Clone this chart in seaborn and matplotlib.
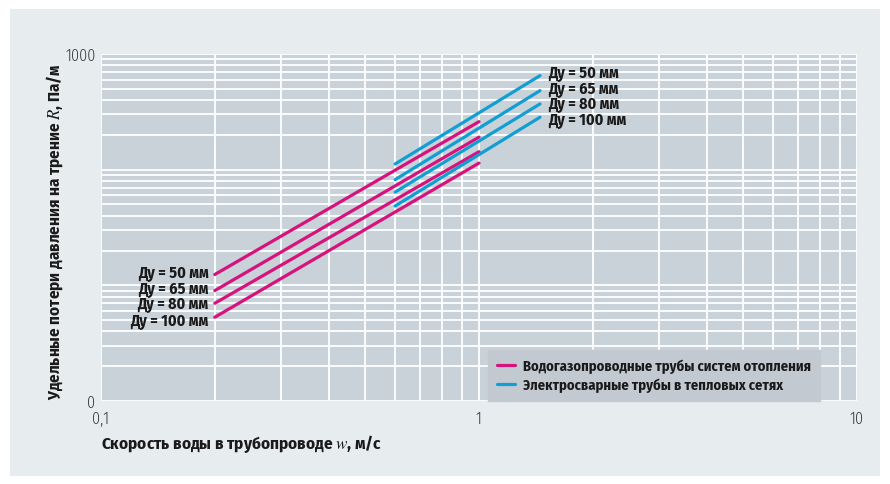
import matplotlib
matplotlib.use("Agg")
import matplotlib.pyplot as plt
from matplotlib.lines import Line2D
from matplotlib.patches import Rectangle
from matplotlib.ticker import NullFormatter
import pandas as pd
import seaborn as sns

# Pipe sizes (nominal diameter, mm)
dn_sizes = [50, 65, 80, 100]

# Water-gas pipes of heating systems: velocity range and friction losses at ends
w_gas = [0.2, 1.0]
r_gas_start = [12.4, 9.0, 7.0, 5.3]
r_gas_end = [260, 191, 143, 114]

# Electric-welded pipes of heat networks
w_weld = [0.6, 1.45]
r_weld_start = [112, 82, 64, 48.5]
r_weld_end = [650, 482, 370, 284]

series_names = ["Водогазопроводные трубы систем отопления",
                "Электросварные трубы в тепловых сетях"]
series_colors = ["#d6137c", "#119fd3"]

x_ticks = [0.1, 1, 10]
x_ticklabels = ["0,1", "1", "10"]
y_ticks = [1, 1000]
y_ticklabels = ["0", "1000"]

rows = []
for name, ws, rs, re_ in [(series_names[0], w_gas, r_gas_start, r_gas_end),
                          (series_names[1], w_weld, r_weld_start, r_weld_end)]:
    for dn, r0, r1 in zip(dn_sizes, rs, re_):
        rows.append({"w": ws[0], "R": r0, "type": name, "dn": dn})
        rows.append({"w": ws[1], "R": r1, "type": name, "dn": dn})
df = pd.DataFrame(rows)

sns.set_theme(style="white")
FONT = ["Fira Sans Condensed", "DejaVu Sans"]
plt.rcParams["font.family"] = FONT
plt.rcParams["mathtext.fontset"] = "stix"

fig = plt.figure(figsize=(8.9, 4.85), dpi=100)
fig.patch.set_facecolor("white")
fig.patches.append(Rectangle((10 / 890, 1 - 477 / 485), 870 / 890, 467 / 485,
                             transform=fig.transFigure, facecolor="#e7ecef",
                             edgecolor="none", zorder=-10))

ax = fig.add_axes([101 / 890, 1 - 402 / 485, 756 / 890, 347 / 485])
ax.set_zorder(1)
ax.set_facecolor("#c9d1d9")

sns.lineplot(data=df, x="w", y="R", hue="type", units="dn", estimator=None,
             palette=dict(zip(series_names, series_colors)), linewidth=2.3,
             legend=False, ax=ax)

ax.set_xscale("log")
ax.set_yscale("log")
ax.set_xlim(0.1, 10)
ax.set_ylim(1, 1000)

ax.set_xticks(x_ticks)
ax.set_xticklabels(x_ticklabels)
ax.set_yticks(y_ticks)
ax.set_yticklabels(y_ticklabels)
x_minor = [m * d for d in (0.1, 1) for m in range(2, 10)]
y_minor = [m * d for d in (1, 10, 100) for m in range(2, 10)] + [10, 100]
ax.set_xticks(x_minor, minor=True)
ax.set_yticks(y_minor, minor=True)
ax.xaxis.set_minor_formatter(NullFormatter())
ax.yaxis.set_minor_formatter(NullFormatter())
ax.tick_params(which="both", length=0)
ax.tick_params(axis="x", pad=7, labelcolor="#3a3a3a")
ax.tick_params(axis="y", pad=4, labelcolor="#3a3a3a")
for lbl in ax.get_xticklabels() + ax.get_yticklabels():
    lbl.set_fontsize(11.5)
    lbl.set_fontweight(300)
ax.grid(which="both", color="white", linewidth=1.3)
for sp in ax.spines.values():
    sp.set_visible(False)

ax.set_xlabel("Скорость воды в трубопроводе $w$, м/с", fontsize=12.3,
              fontweight="bold", color="#1a1a1a")
ax.xaxis.set_label_coords(0.0, -0.09)
ax.xaxis.label.set_horizontalalignment("left")
ax.set_ylabel("Удельные потери давления на трение $R$, Па/м", fontsize=12.2,
              fontweight="bold", color="#1a1a1a")
ax.yaxis.set_label_coords(-0.047, 0.49)

# Diameter labels next to the line ends
left_dy = [1.1, 1.1, -0.7, -2.5]
for dn, r0, dy in zip(dn_sizes, r_gas_start, left_dy):
    ax.annotate(f"Ду = {dn} мм", xy=(w_gas[0], r0), xytext=(-4.5, dy),
                textcoords="offset points", ha="right", va="center",
                fontsize=11.5, fontweight="bold", color="#1a1a1a")
right_dy = [2.2, 1.4, 0.0, -2.2]
for dn, r1, dy in zip(dn_sizes, r_weld_end, right_dy):
    ax.annotate(f"Ду = {dn} мм", xy=(w_weld[1], r1), xytext=(6, dy),
                textcoords="offset points", ha="left", va="center",
                fontsize=11.5, fontweight="bold", color="#1a1a1a")

handles = [Line2D([0], [0], color=c, lw=2.3) for c in series_colors]
leg = ax.legend(handles, series_names, loc="lower right",
                bbox_to_anchor=(719 / 756, 0.0), borderaxespad=0,
                frameon=True, fancybox=False, framealpha=1,
                facecolor="#c2c9d1", edgecolor="#c2c9d1",
                handlelength=1.25, handletextpad=0.55, borderpad=0.6,
                labelspacing=0.3,
                prop={"family": FONT, "weight": "bold", "size": 10.5})
for t in leg.get_texts():
    t.set_color("#1a1a1a")

fig.savefig("out.png", dpi=100)
